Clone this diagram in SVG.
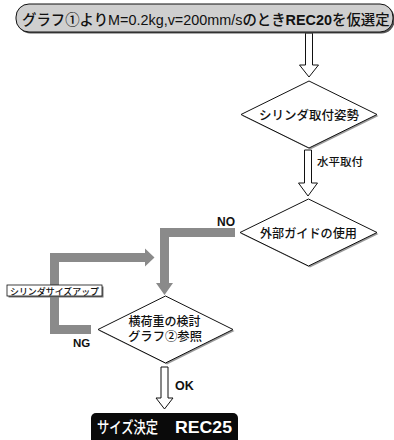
<svg xmlns="http://www.w3.org/2000/svg" width="394" height="440" viewBox="0 0 394 440">
<style>
text{font-family:"Liberation Sans","Noto Sans CJK JP",sans-serif;fill:#111;font-weight:500}
.d{fill:#fff;stroke:#111;stroke-width:1}
.sh{fill:#9a9a9a}
.ha{fill:#fff;stroke:#111;stroke-width:1}
.g{fill:#8a8a8a}
.t{font-size:12.5px;text-anchor:middle}
.b{font-weight:bold}
</style>
<rect width="394" height="440" fill="#fff"/>
<g id="connectors">
<path class="ha" d="M305.5,33 V65 H299.5 L309,77 L318.5,65 H312.5 V33 Z"/>
<path class="ha" d="M304.5,150 V183 H298.5 L308,196 L317.5,183 H311.5 V150 Z"/>
<path class="ha" d="M161,367 V398 H156 L164.5,409 L173,398 H168 V367 Z"/>
<path class="g" d="M235,228 H160 V283 H156 L164.5,295 L173,283 H169 V237 H235 Z"/>
<path class="g" d="M91,325 H59 V262 H145 V266.5 L154.5,257.5 L145,248.5 V253 H50 V334 H91 Z"/>
<text x="317" y="166" style="font-size:11.5px" textLength="46" lengthAdjust="spacingAndGlyphs">水平取付</text>
<text class="b" x="217" y="226" style="font-size:12px">NO</text>
<text class="b" x="73" y="347" style="font-size:11.5px">NG</text>
<text class="b" x="175" y="390" style="font-size:12.5px">OK</text>
<g id="size-up-label">
<rect x="8.5" y="286.5" width="95" height="11" fill="#777"/>
<rect x="7" y="285" width="95" height="11" fill="#fff" stroke="#111" stroke-width="0.8"/>
<text x="54.5" y="294.5" style="font-size:9px;text-anchor:middle" textLength="89" lengthAdjust="spacingAndGlyphs">シリンダサイズアップ</text>
</g>
</g>
<g id="start">
<rect x="17.5" y="5.5" width="377" height="28" rx="13" fill="#555"/>
<rect x="16" y="4" width="377" height="28" rx="13" fill="#cfcfcf" stroke="#111" stroke-width="1"/>
<text x="22" y="25" style="font-size:14.4px">グラフ①よりM=0.2kg,v=200mm/sのとき<tspan class="b">REC20</tspan>を仮選定</text>
</g>
<g id="mounting">
<polygon class="sh" points="242.5,116 310.5,82.5 378.5,116 310.5,149.5"/>
<polygon class="d" points="241,114.5 309,81 377,114.5 309,148"/>
<text class="t" x="309" y="119.5" textLength="100" lengthAdjust="spacingAndGlyphs">シリンダ取付姿勢</text>
</g>
<g id="guide">
<polygon class="sh" points="241.5,234 310,200.5 378.5,234 310,267.5"/>
<polygon class="d" points="240,232.5 308.5,199 377,232.5 308.5,266"/>
<text class="t" x="308.5" y="237.5" textLength="97" lengthAdjust="spacingAndGlyphs">外部ガイドの使用</text>
</g>
<g id="lateral">
<polygon class="sh" points="99.5,331 167,297.5 234.5,331 167,364.5"/>
<polygon class="d" points="98,329.5 165.5,296 233,329.5 165.5,363"/>
<text class="t" x="164.5" y="326" textLength="72" lengthAdjust="spacingAndGlyphs">横荷重の検討</text>
<text class="t" x="165" y="341" textLength="74" lengthAdjust="spacingAndGlyphs">グラフ②参照</text>
</g>
<g id="result">
<rect x="91" y="413" width="147" height="32" rx="5" fill="#0a0a0a"/>
<text x="97" y="433" style="font-size:16px;fill:#fff" textLength="61" lengthAdjust="spacingAndGlyphs">サイズ決定</text>
<text x="175" y="433" style="font-size:17px;fill:#fff" class="b" textLength="57" lengthAdjust="spacingAndGlyphs">REC25</text>
</g>
</svg>
